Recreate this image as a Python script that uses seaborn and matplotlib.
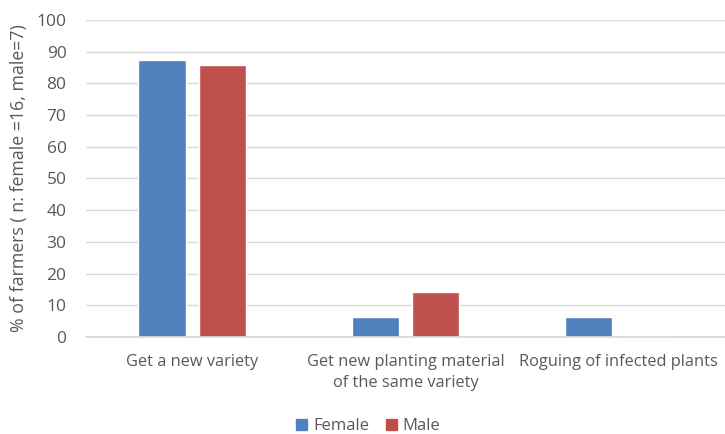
import matplotlib
matplotlib.use("Agg")
import matplotlib.pyplot as plt
import seaborn as sns
import pandas as pd

categories = ["Get a new variety",
              "Get new planting material\nof the same variety",
              "Roguing of infected plants"]
female = [87.5, 6.25, 6.25]
male = [85.7, 14.3, 0.0]
groups = ["Female", "Male"]
colors = {"Female": "#4F81BD", "Male": "#C0504D"}
yticks = [0, 10, 20, 30, 40, 50, 60, 70, 80, 90, 100]

df = pd.DataFrame({
    "category": categories * 2,
    "value": female + male,
    "gender": ["Female"] * len(categories) + ["Male"] * len(categories),
})

sns.set_theme(style="white")
plt.rcParams["font.family"] = ["Open Sans", "DejaVu Sans"]
text_color = "#595959"

fig = plt.figure(figsize=(7.25, 4.34), dpi=100)
ax = fig.add_axes([0.1186, 0.2235, 0.8814, 0.7305])

sns.barplot(data=df, x="category", y="value", hue="gender", hue_order=groups,
            palette=colors, width=0.568, gap=0.215, saturation=1,
            ax=ax, legend=False)

ax.set_ylim(0, 100)
ax.set_yticks(yticks)
ax.set_xlim(-0.5, len(categories) - 0.5)
ax.yaxis.grid(True, color="#D9D9D9", linewidth=1)
ax.set_axisbelow(True)
for s in ["top", "right", "left"]:
    ax.spines[s].set_visible(False)
ax.spines["bottom"].set_color("#D9D9D9")
ax.tick_params(axis="y", length=0, labelsize=12.5, colors=text_color, pad=14)
ax.tick_params(axis="x", length=0, labelsize=11.8, colors=text_color, pad=12)
for lbl in ax.get_xticklabels():
    lbl.set_linespacing(1.45)
ax.set_xlabel("")
ax.set_ylabel("% of farmers ( n: female =16, male=7)", fontsize=12.8,
              color=text_color, labelpad=6)

handles = [plt.Rectangle((0, 0), 1, 1, color=colors[g]) for g in groups]
fig.legend(handles, groups, loc="lower center", bbox_to_anchor=(0.508, -0.035),
           ncol=2, frameon=False, fontsize=12, handlelength=0.65, handleheight=0.65,
           handletextpad=0.35, columnspacing=1.0, labelcolor=text_color)

fig.savefig("out.png", dpi=100)
